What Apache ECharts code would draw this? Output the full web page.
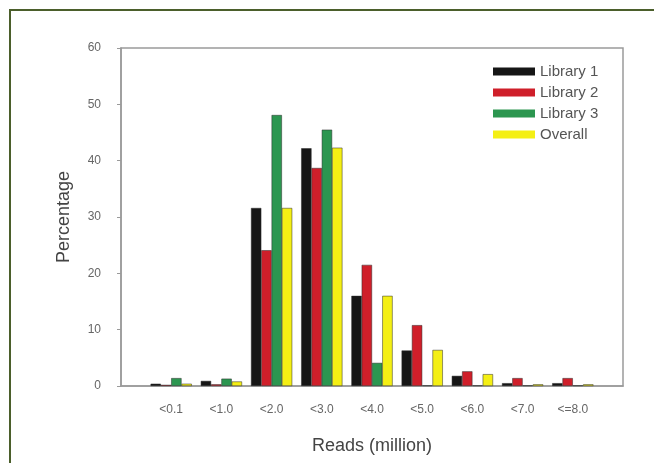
<!DOCTYPE html>
<html>
<head>
<meta charset="utf-8">
<script src="https://cdn.jsdelivr.net/npm/echarts@6/dist/echarts.min.js"></script>
<style>html,body{margin:0;padding:0;background:#fff}#c{width:654px;height:463px}</style>
</head>
<body>
<div id="c"></div>
<script>
var categories = ['<0.1', '<1.0', '<2.0', '<3.0', '<4.0', '<5.0', '<6.0', '<7.0', '<=8.0'];
var library1 = [0.4, 0.9, 31.6, 42.2, 16.0, 6.3, 1.8, 0.5, 0.5];
var library2 = [0.2, 0.3, 24.1, 38.7, 21.5, 10.8, 2.6, 1.4, 1.4];
var library3 = [1.4, 1.3, 48.1, 45.5, 4.1, 0.1, 0.1, 0.1, 0.1];
var overall  = [0.4, 0.8, 31.6, 42.3, 16.0, 6.4, 2.1, 0.3, 0.3];
var seriesNames = ['Library 1', 'Library 2', 'Library 3', 'Overall'];
var seriesColors = ['#161616', '#cf1f2a', '#2c9650', '#f4ef14'];
var yTicks = [0, 10, 20, 30, 40, 50, 60];

var font = 'Liberation Sans, Arial, sans-serif';
var chart = echarts.init(document.getElementById('c'), null, {renderer: 'canvas'});
function pairs(arr) { return arr.map(function (v, i) { return [i + 1, v]; }); }
var allData = [library1, library2, library3, overall];

chart.setOption({
  animation: false,
  backgroundColor: '#ffffff',
  textStyle: {fontFamily: font},
  graphic: [{
    type: 'rect',
    shape: {x: 10, y: 10, width: 700, height: 520},
    style: {fill: 'none', stroke: '#4b5e2b', lineWidth: 2},
    silent: true
  }],
  grid: {
    left: 121, top: 48, width: 502, height: 338,
    show: true, borderColor: '#9a9a9a', borderWidth: 1.5, backgroundColor: 'transparent'
  },
  legend: {
    orient: 'vertical',
    left: 488, top: 59,
    itemWidth: 42, itemHeight: 8, itemGap: 6,
    icon: 'rect',
    selectedMode: false,
    itemStyle: {borderWidth: 0},
    textStyle: {color: '#555', fontSize: 15, fontFamily: font, lineHeight: 15},
    data: seriesNames
  },
  xAxis: {
    type: 'value',
    min: 0, max: 10, interval: 1,
    name: 'Reads (million)',
    nameLocation: 'middle',
    nameGap: 51,
    nameTextStyle: {color: '#444', fontSize: 18, fontFamily: font},
    axisLine: {show: true, lineStyle: {color: '#9a9a9a', width: 1.5}},
    axisTick: {show: false},
    splitLine: {show: false},
    axisLabel: {
      color: '#666', fontSize: 12, margin: 18, fontFamily: font,
      formatter: function (v) { return (v >= 1 && v <= categories.length) ? categories[v - 1] : ''; }
    }
  },
  yAxis: {
    type: 'value',
    min: yTicks[0], max: yTicks[yTicks.length - 1], interval: 10,
    name: 'Percentage',
    nameLocation: 'middle',
    nameGap: 48,
    nameTextStyle: {color: '#444', fontSize: 18, fontFamily: font},
    axisLine: {show: true, lineStyle: {color: '#9a9a9a', width: 1.5}},
    axisTick: {show: true, inside: false, length: 4, lineStyle: {color: '#9a9a9a'}},
    splitLine: {show: false},
    axisLabel: {color: '#666', fontSize: 12, margin: 20, fontFamily: font}
  },
  series: seriesNames.map(function (name, k) {
    return {
      name: name,
      type: 'bar',
      barWidth: 10.3,
      barGap: '0%',
      data: pairs(allData[k]),
      itemStyle: {color: seriesColors[k], borderColor: '#2a2a2a', borderWidth: 0.5}
    };
  })
});
</script>
</body>
</html>
